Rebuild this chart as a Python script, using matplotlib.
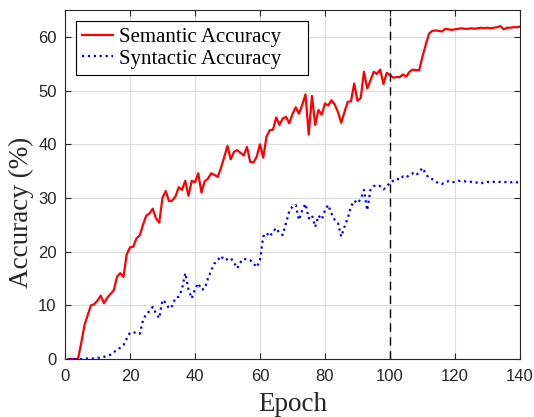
import numpy as np
from matplotlib import pyplot as plt

# accuracy (%) per epoch
epochs = np.arange(1, 141)

semantic = [
    0.0, 0.0, 0.0, 0.0, 3.0, 6.3, 8.2, 10.0, 10.2, 10.9,
    11.8, 10.4, 11.4, 12.1, 12.8, 15.3, 16.0, 15.3, 19.5, 20.8,
    20.9, 22.5, 23.0, 25.0, 26.7, 27.1, 28.0, 26.2, 25.4, 30.0,
    31.3, 29.4, 29.5, 30.3, 32.0, 31.5, 33.2, 30.4, 33.2, 32.9,
    34.6, 31.0, 33.1, 33.6, 34.6, 34.3, 33.9, 35.6, 37.6, 39.7,
    37.2, 38.6, 38.9, 38.4, 37.9, 39.5, 36.7, 36.6, 37.7, 40.0,
    37.5, 41.4, 42.6, 42.7, 45.0, 43.6, 44.8, 45.1, 43.9, 45.6,
    46.9, 45.7, 47.3, 49.3, 41.8, 49.0, 43.6, 46.4, 45.5, 47.6,
    47.2, 48.2, 47.4, 46.0, 44.0, 46.0, 47.9, 48.0, 51.3, 48.1,
    48.6, 53.5, 50.4, 51.9, 53.5, 53.1, 53.9, 51.2, 53.3, 52.9,
    52.4, 52.5, 52.5, 53.0, 52.6, 53.5, 53.9, 53.8, 53.8, 56.3,
    58.5, 60.6, 61.1, 61.2, 61.1, 61.0, 61.5, 61.4, 61.3, 61.4,
    61.5, 61.6, 61.5, 61.5, 61.6, 61.5, 61.6, 61.7, 61.6, 61.7,
    61.6, 61.7, 61.8, 62.0, 61.4, 61.7, 61.7, 61.8, 61.8, 61.9,
]

syntactic = [
    0.0, 0.0, 0.0, 0.0, 0.0, 0.0, 0.1, 0.1, 0.1, 0.2,
    0.3, 0.4, 0.6, 0.8, 1.2, 1.8, 2.1, 2.6, 3.8, 4.9,
    5.0, 4.8, 4.7, 7.2, 8.4, 8.9, 9.7, 8.5, 7.6, 11.0,
    10.5, 9.4, 9.9, 11.4, 11.6, 13.0, 16.0, 13.0, 11.3, 13.0,
    14.1, 12.9, 13.1, 15.0, 16.5, 17.8, 18.4, 19.2, 18.4, 18.6,
    18.8, 18.0, 16.9, 18.0, 18.7, 18.5, 18.4, 17.8, 17.1, 18.4,
    22.8, 23.5, 22.8, 23.7, 24.4, 23.4, 23.1, 25.3, 27.5, 28.4,
    28.7, 25.9, 27.7, 28.9, 26.2, 26.8, 24.6, 26.7, 26.0, 27.7,
    28.7, 27.1, 25.9, 25.3, 22.8, 24.6, 26.2, 28.4, 29.5, 29.0,
    29.8, 31.5, 27.7, 31.5, 32.2, 32.4, 32.2, 31.6, 32.1, 32.9,
    33.2, 33.6, 33.4, 34.0, 33.8, 34.3, 34.6, 34.2, 34.8, 35.6,
    34.5, 33.7, 33.5, 33.1, 32.7, 32.6, 33.0, 33.1, 32.9, 33.0,
    33.2, 33.1, 33.1, 33.0, 33.0, 32.8, 32.9, 32.7, 32.9, 33.0,
    32.9, 33.0, 32.9, 33.0, 32.9, 33.0, 32.9, 33.0, 32.9, 33.0,
]

split_epoch = 100

fig = plt.figure(figsize=(5.34, 4.17), dpi=100)
ax = fig.add_axes([0.1217, 0.139, 0.852, 0.837])

ax.plot(epochs, semantic, color='red', lw=1.6, label='Semantic Accuracy')
ax.plot(epochs, syntactic, color='blue', lw=1.6, ls=':', label='Syntactic Accuracy')
ax.axvline(split_epoch, color='black', lw=1.0, ls=(0, (6, 4)))

ax.set_xlim(0, 140)
ax.set_ylim(0, 65)
ax.set_xticks(np.arange(0, 141, 20))
ax.set_yticks(np.arange(0, 61, 10))
ax.grid(True, color='#dcdcdc', lw=0.8)
ax.set_axisbelow(True)

ax.tick_params(direction='in', top=True, right=True, length=4, width=0.8,
               labelsize=12, colors='#262626')
ax.tick_params(axis='x', pad=7)
ax.tick_params(axis='y', pad=6)
for lab in ax.get_xticklabels() + ax.get_yticklabels():
    lab.set_family('Liberation Sans')
for s in ax.spines.values():
    s.set_color('#262626')
    s.set_linewidth(0.8)

ax.set_xlabel('Epoch', family='Liberation Serif', fontsize=19.5, color='#262626', labelpad=6)
ax.set_ylabel('Accuracy (%)', family='Liberation Serif', fontsize=19.5, color='#262626')
ax.yaxis.set_label_coords(-0.068, 0.42)

# MATLAB-style legend box: wider than its text
leg = ax.legend(loc='upper left', bbox_to_anchor=(0.024, 0.968, 0.51, 0.0),
                mode='expand', prop={'family': 'Liberation Serif', 'size': 15},
                fancybox=False, framealpha=1, edgecolor='black',
                borderaxespad=0.0, handlelength=1.5, handletextpad=0.25,
                labelspacing=0.1, borderpad=0.3)
leg.get_frame().set_linewidth(0.8)

fig.savefig('out.png', dpi=100)
